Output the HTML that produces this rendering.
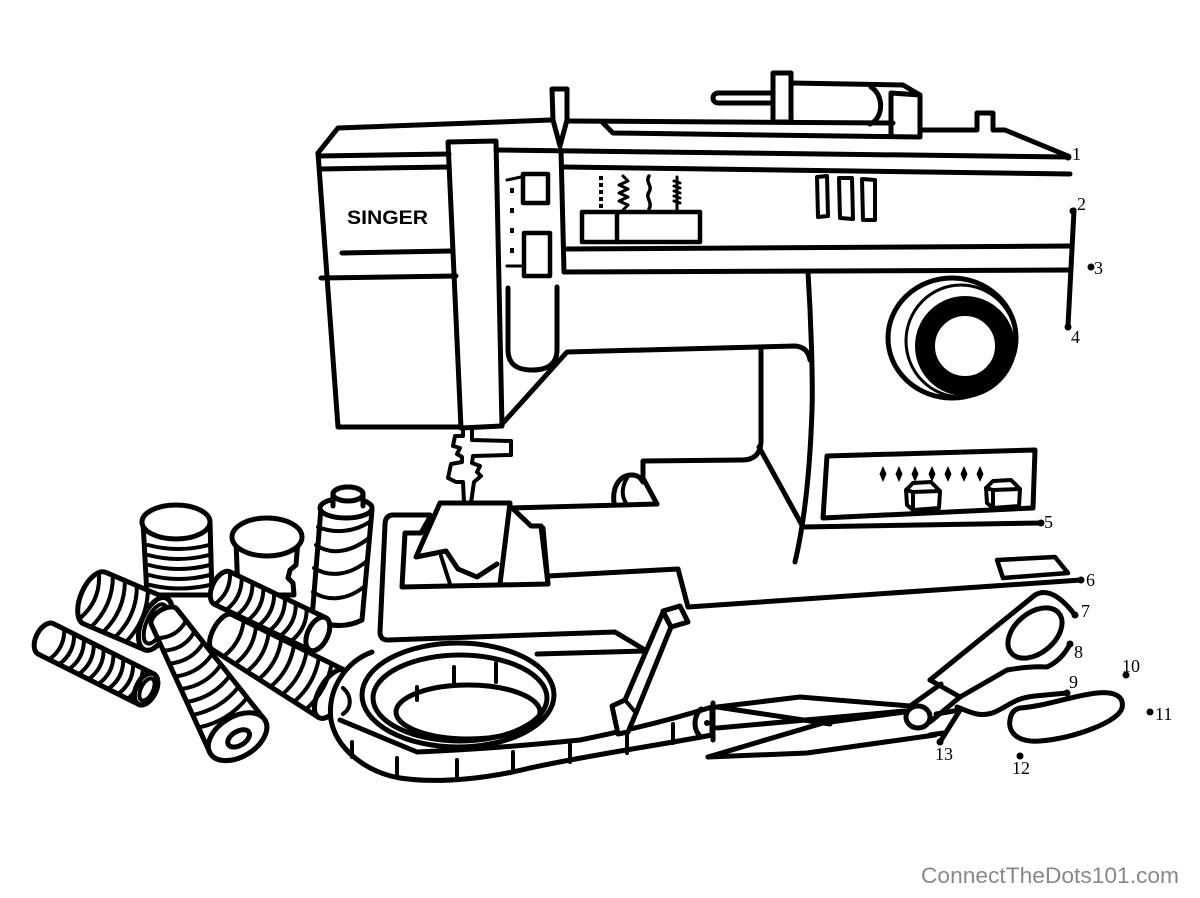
<!DOCTYPE html>
<html><head><meta charset="utf-8">
<style>
html,body{margin:0;padding:0;background:#fff;}
svg{display:block;}
.n{font-family:"Liberation Serif",serif;font-size:18px;fill:#000;stroke:none;}
</style></head><body>
<svg width="1200" height="898" viewBox="0 0 1200 898" xmlns="http://www.w3.org/2000/svg">
<rect width="1200" height="898" fill="#fff"/>
<g fill="none" stroke="#000" stroke-width="5" stroke-linejoin="round" stroke-linecap="round">

<!-- ===== MACHINE TOP ===== -->
<path d="M318,153 L338,128 L551,120"/>
<path d="M567,121 L893,123"/>
<path d="M603,123 L613,133 L920,137"/>
<path d="M920,130 L977,130 L977,113 L993,113 L993,130 L1005,130 L1068,156"/>
<path d="M552,89 L567,89 L567,120 L560,146 L553,120 Z" fill="#fff"/>
<!-- thread holder -->
<path d="M773,93 L718,93 A5,5 0 0 0 718,103 L773,103" fill="#fff"/>
<rect x="773" y="73" width="18" height="49" fill="#fff"/>
<path d="M791,83 L903,85 L920,95 L920,137"/>
<path d="M891,93 L891,136 M891,93 L920,95"/>
<path d="M871,87 C884,95 884,118 870,124"/>

<!-- ===== LEFT HEAD ===== -->
<path d="M318,153 L338,427 L461,427"/>
<path d="M319,156 L449,154"/>
<path d="M320,169 L449,167"/>
<path d="M342,253 L451,251"/>
<path d="M321,278 L456,276"/>
<!-- needle bar -->
<path d="M461,428 L448,142 L496,141 L502,426 Z"/>

<!-- ===== FRONT PANEL ===== -->
<path d="M496,150 L1068,157"/>
<path d="M561,150 L564,272"/>
<path d="M564,167 L1070,174"/>
<path d="M564,249 L1070,246"/>
<path d="M564,272 L1070,270"/>
<path d="M1074,210 L1068,326"/>
<!-- selectors -->
<rect x="523" y="174" width="25" height="29" stroke-width="4.5"/>
<rect x="524" y="233" width="26" height="43" stroke-width="4.5"/>
<path d="M507,180 L521,177 M507,266 L521,266" stroke-width="3"/>
<g fill="#000" stroke="none">
<rect x="510" y="188" width="4" height="5"/>
<rect x="510" y="208" width="4" height="5"/>
<rect x="510" y="228" width="4" height="5"/>
<rect x="510" y="248" width="4" height="5"/>
<rect x="599" y="176" width="4" height="4"/>
<rect x="599" y="183" width="4" height="4"/>
<rect x="599" y="190" width="4" height="4"/>
<rect x="599" y="197" width="4" height="4"/>
<rect x="599" y="204" width="4" height="4"/>
</g>
<rect x="582" y="212" width="118" height="30" stroke-width="4.5"/>
<path d="M617,212 L617,242" stroke-width="4.5"/>
<path d="M623,176 L628,181 L619,185 L628,189 L619,193 L628,197 L619,201 L628,205 L623,210" stroke-width="3"/>
<path d="M649,176 C645,182 653,186 649,192 C645,198 653,202 649,209" stroke-width="3.5"/>
<path d="M677,177 L677,210 M674,181 L680,183 M674,186 L680,188 M674,191 L680,193 M674,196 L680,198 M674,201 L680,203" stroke-width="3"/>
<path d="M817,177 L827,176 L828,216 L818,217 Z" stroke-width="4"/>
<path d="M839,178 L852,178 L853,219 L840,218 Z" stroke-width="4"/>
<path d="M862,179 L875,180 L875,220 L863,220 Z" stroke-width="4"/>
<!-- U shape -->
<path d="M508,288 L508,350 Q508,370 532,370 Q557,370 557,350 L557,287"/>

<!-- ===== ARM / BODY ===== -->
<path d="M503,423 L567,352 L795,346 Q808,347 810,360"/>
<path d="M808,272 C811,320 813,380 812,410 C810,470 805,520 795,562"/>
<path d="M761,349 L761,442 Q760,460 742,460 L643,461 L643,478 L657,504"/>
<path d="M614,503 C612,486 620,475 632,475 C637,475 641,478 643,482"/>
<path d="M627,478 C621,488 622,497 626,503" stroke-width="4"/>
<path d="M510,508 L657,504"/>
<path d="M759,447 L803,527 L1041,523"/>
<!-- knob -->
<ellipse cx="952" cy="338" rx="64" ry="60"/>
<ellipse cx="961" cy="341" rx="55" ry="56" stroke-width="3"/>
<circle cx="965" cy="346" r="40" stroke-width="20"/>
<!-- lower panel -->
<path d="M827,456 L1035,450 L1033,508 L823,518 Z"/>
<g fill="#000" stroke="none">
<path d="M883,466 L886.5,474 L883,482 L879.5,474 Z"/>
<path d="M899,466 L902.5,474 L899,482 L895.5,474 Z"/>
<path d="M915,466 L918.5,474 L915,482 L911.5,474 Z"/>
<path d="M932,466 L935.5,474 L932,482 L928.5,474 Z"/>
<path d="M948,466 L951.5,474 L948,482 L944.5,474 Z"/>
<path d="M964,466 L967.5,474 L964,482 L960.5,474 Z"/>
<path d="M980,466 L983.5,474 L980,482 L976.5,474 Z"/>
</g>
<g stroke-width="4">
<path d="M906,490 L913,483 L931,482 L940,491 L913,492 Z M913,492 L940,491 L939,508 L913,510 Z M906,490 L913,492 L913,510 L907,505 Z" fill="#fff"/>
<path d="M986,488 L993,481 L1011,480 L1020,489 L993,490 Z M993,490 L1020,489 L1019,506 L993,508 Z M986,488 L993,490 L993,508 L987,503 Z" fill="#fff"/>
</g>
<path d="M997,560 L1055,557 L1068,573 L1003,578 Z" stroke-width="4.5"/>

<!-- ===== BED ===== -->
<path d="M548,576 L678,569 L688,607 L1081,580"/>
<path d="M430,515 L392,515 Q385,516 385,525 L380,632 Q380,640 388,640 L615,632 L645,650"/>
<path d="M537,654 L645,651"/>
<path d="M430,517 L421,533 L405,533 L402,587 L548,584 L543,528"/>
<!-- fabric -->
<path d="M440,503 L510,503 L500,584"/>
<path d="M440,503 L416,557 L446,551 L458,569 L477,577 L497,564"/>
<path d="M441,556 L450,584" stroke-width="4"/>
<path d="M510,506 L531,526 L541,526 L548,584"/>
<!-- presser foot -->
<path d="M463,428 L463,436 L455,436 L453,446 L460,448 L457,454 L462,457 L462,462 L451,464 L448,478 L456,482 L463,482 L464,503" stroke-width="4"/>
<path d="M472,428 L472,440 L511,441 L511,455 L473,456 L472,463 L480,466 L477,472 L481,476 L474,482 L471,503" stroke-width="4"/>

<!-- ===== STANDING SPOOLS ===== -->
<!-- A -->
<path d="M143,522 L147,595 L212,595 L210,522" fill="#fff"/>
<ellipse cx="176" cy="522" rx="34" ry="17" fill="#fff"/>
<path d="M148,545 Q178,553 209,545 M148,555 Q178,563 209,555 M149,565 Q178,573 210,565 M149,575 Q178,583 210,575 M150,585 Q178,592 210,585" stroke-width="4"/>
<!-- B -->
<path d="M236,540 L238,595 L294,595 L293,583 L288,578 L290,570 L296,565 L298,540" fill="#fff"/>
<ellipse cx="267" cy="537" rx="35" ry="19" fill="#fff"/>
<!-- C -->
<path d="M321,508 L312,618 Q338,632 362,620 L372,510 Z" fill="#fff"/>
<ellipse cx="346" cy="508" rx="26" ry="10" fill="#fff"/>
<path d="M333,506 L333,494 A15,7 0 0 1 363,494 L363,506" fill="#fff"/>
<ellipse cx="348" cy="494" rx="15" ry="7" fill="#fff"/>
<path d="M318,527 C335,534 355,532 371,521 M316,545 C330,555 350,553 369,538 M314,568 C330,578 350,575 367,561 M313,592 C328,602 348,600 365,586" stroke-width="4"/>

<!-- ===== LYING SPOOLS ===== -->
<!-- D -->
<g transform="translate(125,611) rotate(23)">
<path d="M-33,-28 L33,-28 A14,28 0 0 1 33,28 L-33,28 A14,28 0 0 1 -33,-28 Z" fill="#fff"/>
<ellipse cx="33" cy="0" rx="14" ry="28" fill="#fff"/>
<ellipse cx="33" cy="0" rx="9" ry="21" stroke-width="4"/>
<path d="M-38,-23 Q-27,0 -38,23 M-25,-28 Q-13,0 -25,28 M-12,-28 Q0,0 -12,28 M1,-28 Q13,0 1,28 M13,-28 Q24,0 13,28" stroke-width="4"/>
</g>
<!-- G -->
<g transform="translate(270,611) rotate(25.6)">
<path d="M-53,-18 L53,-18 A10,18 0 0 1 53,18 L-53,18 A10,18 0 0 1 -53,-18 Z" fill="#fff"/>
<ellipse cx="53" cy="0" rx="10" ry="18" fill="#fff"/>
<path d="M-53,-18 Q-43,0 -53,18" stroke-width="4"/>
<path d="M-40,-18 Q-31,0 -40,18 M-28,-18 Q-19,0 -28,18 M-16,-18 Q-7,0 -16,18 M-4,-18 Q5,0 -4,18 M8,-18 Q17,0 8,18 M20,-18 Q29,0 20,18 M32,-18 Q41,0 32,18" stroke-width="4"/>
</g>
<!-- H -->
<g transform="translate(277,663) rotate(29.4)">
<path d="M-63,-20 L63,-27 A13,27 0 0 1 63,27 L-63,20 A9,20 0 0 1 -63,-20 Z" fill="#fff"/>
<ellipse cx="63" cy="0" rx="13" ry="27" fill="#fff"/>
<path d="M-50,-21 Q-41,0 -50,21 M-36,-21 Q-27,0 -36,21 M-22,-22 Q-13,0 -22,22 M-8,-23 Q1,0 -8,23 M6,-24 Q15,0 6,24 M20,-25 Q29,0 20,25 M34,-25 Q43,0 34,25 M48,-26 Q57,0 48,26" stroke-width="4"/>
</g>
<!-- E -->
<g transform="translate(96,664) rotate(26.6)">
<path d="M-56,-17 L56,-17 A10,17 0 0 1 56,17 L-56,17 A10,17 0 0 1 -56,-17 Z" fill="#fff"/>
<ellipse cx="56" cy="0" rx="10" ry="17" fill="#fff"/>
<ellipse cx="57" cy="0" rx="6" ry="12" stroke-width="4"/>
<path d="M-44,-17 Q-35,0 -44,17 M-33,-17 Q-24,0 -33,17 M-22,-17 Q-13,0 -22,17 M-11,-17 Q-2,0 -11,17 M0,-17 Q9,0 0,17 M11,-17 Q20,0 11,17 M22,-17 Q31,0 22,17 M33,-17 Q42,0 33,17 M44,-17 Q51,0 44,17" stroke-width="4"/>
</g>
<!-- F -->
<g transform="translate(201,677) rotate(58.5)">
<path d="M-70,-15 L70,-32 A20,32 0 0 1 70,32 L-70,15 A8,15 0 0 1 -70,-15 Z" fill="#fff"/>
<ellipse cx="70" cy="0" rx="20" ry="32" fill="#fff"/>
<ellipse cx="72" cy="0" rx="7" ry="12"/>
<path d="M-56,-17 Q-46,0 -56,17 M-42,-18 Q-32,0 -42,18 M-28,-20 Q-18,0 -28,20 M-14,-22 Q-4,0 -14,22 M0,-23 Q10,0 0,23 M14,-25 Q24,0 14,25 M28,-27 Q38,0 28,27 M42,-28 Q52,0 42,28" stroke-width="4"/>
</g>

<!-- ===== TAPE MEASURE ===== -->
<path d="M372,652 C345,662 327,690 331,720 C336,748 365,772 400,778 C440,784 490,778 530,768 C590,755 660,745 712,735 L712,707 C670,720 620,732 580,740 C530,745 470,750 417,752 L340,720" fill="#fff"/>
<path d="M352,742 L352,757 M397,758 L397,776 M457,760 L457,779 M513,752 L513,770 M570,744 L570,762 M627,734 L627,753 M673,724 L673,743" stroke-width="4"/>
<path d="M343,688 C352,696 352,708 343,714" stroke-width="4"/>
<ellipse cx="458" cy="695" rx="96" ry="52" fill="#fff"/>
<ellipse cx="460" cy="698" rx="87" ry="43"/>
<ellipse cx="468" cy="712" rx="72" ry="27"/>
<path d="M417,687 L417,700 M454,667 L454,685 M496,663 L496,682" stroke-width="4"/>
<path d="M713,703 L713,740 M701,709 C693,717 693,730 701,737" fill="#fff"/>
<circle cx="707" cy="723" r="3" fill="#000" stroke="none"/>

<!-- lever -->
<path d="M663,612 L625,700 L612,706 L618,734 L628,732 L636,713 L671,627 Z" fill="#fff"/>
<path d="M663,611 L680,606 L688,622 L671,627 Z" fill="#fff"/>
<path d="M625,700 L636,713" stroke-width="4"/>

<!-- ===== SCISSORS ===== -->
<path d="M717,707 L800,697 L910,706"/>
<path d="M717,707 L830,724"/>
<path d="M717,728 L905,711"/>
<path d="M708,757 L823,723 L905,712"/>
<path d="M708,757 L807,753 L935,735"/>
<path d="M910,706 L941,684"/>
<path d="M930,680 L960,697"/>
<path d="M930,680 L1035,595 Q1052,585 1075,615"/>
<path d="M930,722 L960,697 L1007,670 Q1030,666 1047,667 Q1062,660 1070,644"/>
<ellipse cx="1035" cy="633" rx="31" ry="20" transform="rotate(-40 1035 633)"/>
<ellipse cx="918" cy="717" rx="12" ry="11" fill="#fff"/>
<path d="M957,707 C970,712 980,718 995,712 C1010,705 1015,698 1035,696 L1067,693"/>
<path d="M936,714 L960,710 M930,735 L943,733 M960,710 L940,742"/>
<path d="M1020,708 C1045,706 1065,698 1090,694 C1112,690 1125,695 1122,708 C1118,722 1075,738 1040,741 C1015,743 1008,730 1010,720 C1011,712 1015,709 1020,708 Z"/>
</g>

<!-- SINGER -->
<text x="347" y="224" font-family="Liberation Sans, sans-serif" font-size="19" font-weight="bold" textLength="81" lengthAdjust="spacingAndGlyphs" fill="#000">SINGER</text>

<!-- dots -->
<g fill="#000">
<circle cx="1068" cy="157" r="3.5"/>
<circle cx="1073" cy="211" r="3.5"/>
<circle cx="1091" cy="267" r="3.5"/>
<circle cx="1068" cy="327" r="3.5"/>
<circle cx="1041" cy="523" r="3.5"/>
<circle cx="1081" cy="580" r="3.5"/>
<circle cx="1075" cy="615" r="3.5"/>
<circle cx="1070" cy="644" r="3.5"/>
<circle cx="1067" cy="693" r="3.5"/>
<circle cx="1126" cy="675" r="3.5"/>
<circle cx="1150" cy="712" r="3.5"/>
<circle cx="1020" cy="756" r="3.5"/>
<circle cx="940" cy="742" r="3.5"/>
</g>
<!-- labels -->
<text class="n" x="1072" y="160">1</text>
<text class="n" x="1077" y="210">2</text>
<text class="n" x="1094" y="274">3</text>
<text class="n" x="1071" y="343">4</text>
<text class="n" x="1044" y="528">5</text>
<text class="n" x="1086" y="586">6</text>
<text class="n" x="1081" y="617">7</text>
<text class="n" x="1074" y="658">8</text>
<text class="n" x="1069" y="688">9</text>
<text class="n" x="1122" y="672">10</text>
<text class="n" x="1155" y="720">11</text>
<text class="n" x="1012" y="774">12</text>
<text class="n" x="935" y="760">13</text>

<text x="921" y="883" font-family="Liberation Sans, sans-serif" font-size="22" fill="#888" textLength="258" lengthAdjust="spacingAndGlyphs">ConnectTheDots101.com</text>
</svg>
</body></html>
